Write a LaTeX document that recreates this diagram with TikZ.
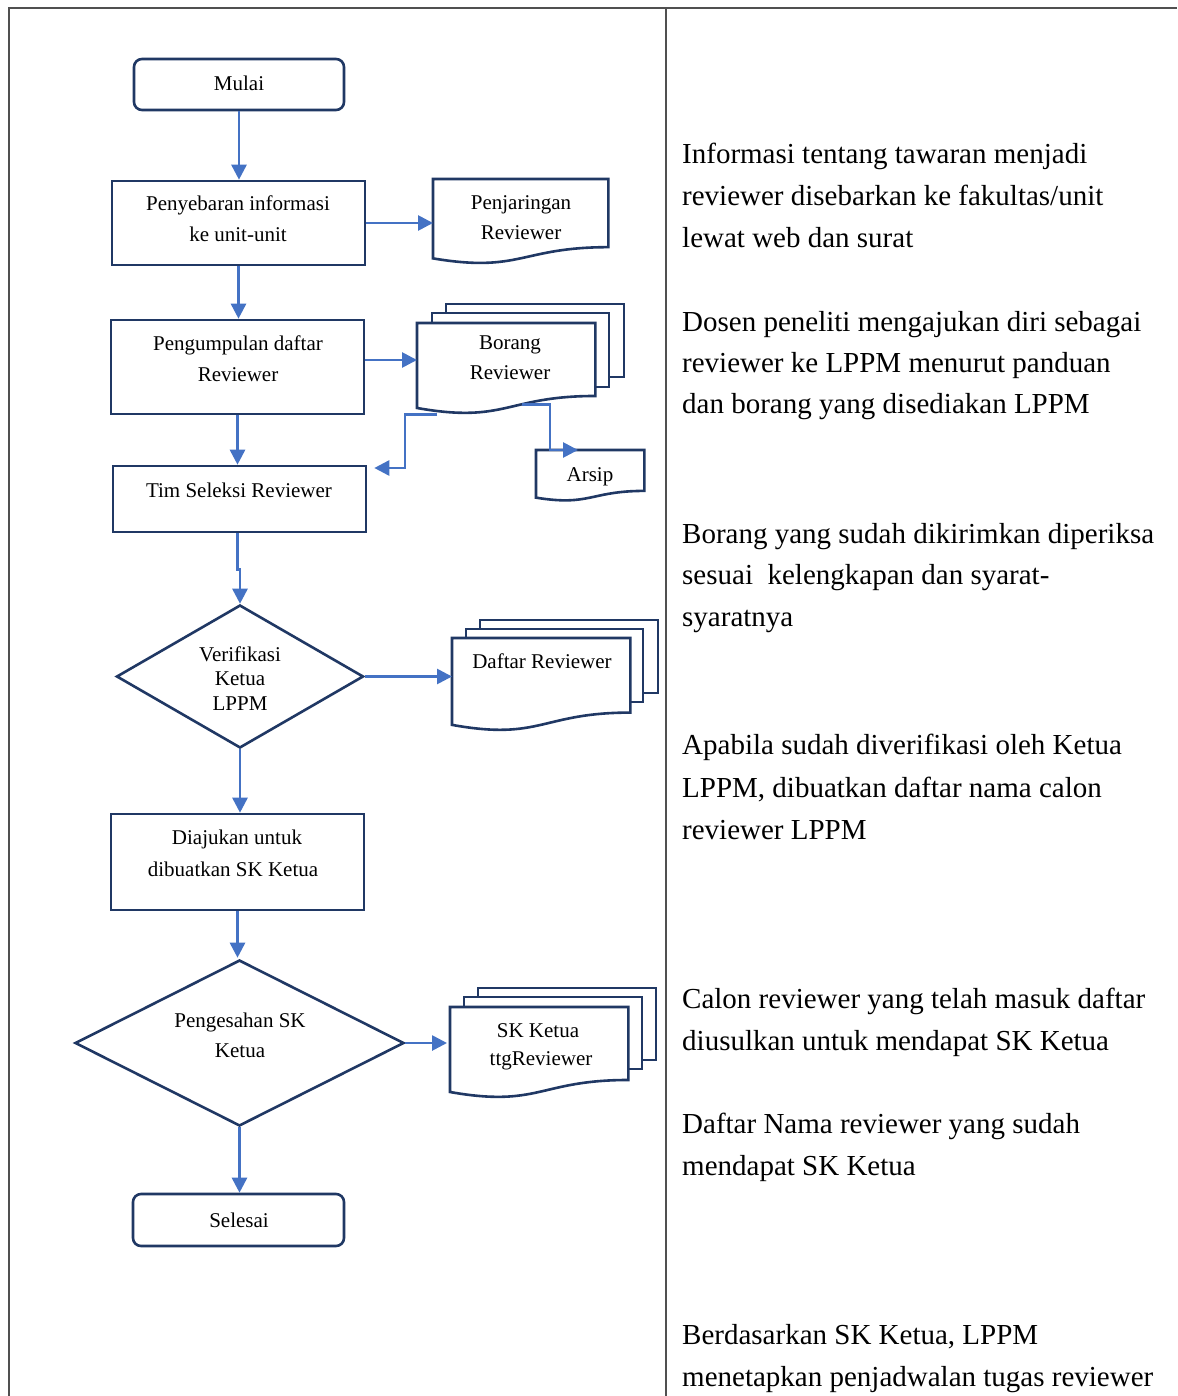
\documentclass[tikz,border=0pt]{standalone}
\usepackage{fontspec}
\setmainfont{Liberation Serif}
\usetikzlibrary{arrows.meta,shapes.geometric,calc}
\definecolor{navy}{HTML}{203864}
\definecolor{conblue}{HTML}{4472C4}
\definecolor{framegray}{HTML}{505050}
\newcommand\docpath[2]{%
  \draw[nodeline,fill=white] (#1.north west) -- (#1.north east)
    -- ([yshift=-0.802*#2]#1.north east)
    .. controls ([yshift=-0.802*#2]#1.north) and ([yshift=-1.1075*#2]#1.north)
    .. ([yshift=-0.934*#2]#1.north west) -- cycle;}
\begin{document}
\begin{tikzpicture}[x=1pt,y=-1pt,
  nodeline/.style={draw=navy,line width=2.6pt,line join=miter},
  procbox/.style={nodeline,rectangle,inner sep=0pt,fill=white},
  termbox/.style={procbox,rounded corners=8pt},
  decbox/.style={nodeline,diamond,inner sep=0pt,fill=white},
  docbox/.style={rectangle,inner sep=0pt,anchor=north west},
  conn/.style={draw=conblue,line width=2.7pt,-{Triangle[length=15pt,width=15pt]}},
  lt/.style={anchor=base,inner sep=0pt,font=\fontsize{21}{25}\selectfont},
  rt/.style={anchor=base west,inner sep=0pt,font=\fontsize{29}{35}\selectfont},
  frame/.style={draw=framegray,line width=1.4pt}]
\useasboundingbox (0,0) rectangle (1177,1396);
\fill[white] (0,0) rectangle (1177,1396);
% table frame
\draw[frame] (9,1396) -- (9,8) -- (1177,8);
\draw[frame] (666,8) -- (666,1396);

% main flow shapes
\node[termbox,minimum width=210pt,minimum height=51pt] (mulai) at (239,84.5) {};
\node[procbox,minimum width=253pt,minimum height=84pt] (peny) at (238.5,223) {};
\node[procbox,minimum width=253pt,minimum height=94pt] (peng) at (237.5,367) {};
\node[procbox,minimum width=253pt,minimum height=66pt] (tim) at (239.5,499) {};
\node[decbox,minimum width=247pt,minimum height=143pt] (verif) at (240,676.5) {};
\node[procbox,minimum width=253pt,minimum height=96pt] (diaj) at (237.5,862) {};
\node[decbox,minimum width=329pt,minimum height=166pt] (sah) at (239.5,1043) {};
\node[termbox,minimum width=211pt,minimum height=52pt] (selesai) at (238.5,1220) {};

% documents
\node[docbox,minimum width=175pt,minimum height=85pt] (penj) at (433,179) {};
\docpath{penj}{85pt}

\draw[nodeline,fill=white] (446,304) rectangle (624,377);
\draw[nodeline,fill=white] (432,313) rectangle (609,387);
\node[docbox,minimum width=178pt,minimum height=91pt] (bord) at (417,323) {};
\docpath{bord}{91pt}

\node[docbox,minimum width=108pt,minimum height=51pt] (arsip) at (536,450) {};
\docpath{arsip}{51pt}

\draw[nodeline,fill=white] (480,620) rectangle (658,693);
\draw[nodeline,fill=white] (466,629) rectangle (643,702);
\node[docbox,minimum width=178pt,minimum height=93pt] (daftar) at (452,638) {};
\docpath{daftar}{93pt}

\draw[nodeline,fill=white] (478,988) rectangle (656,1060);
\draw[nodeline,fill=white] (464,997) rectangle (642,1069);
\node[docbox,minimum width=178pt,minimum height=91pt] (sk) at (450,1007) {};
\docpath{sk}{91pt}

% connectors
\draw[conn] (mulai.south) -- (mulai.south |- peny.north);
\draw[conn] (peny.east) -- (peny.east -| penj.west);
\draw[conn] (peny.south) -- (peny.south |- peng.north);
\draw[conn] ([yshift=7pt]peng.east) -- ([yshift=7pt]peng.east -| bord.west);
\draw[conn] (peng.south) -- (peng.south |- tim.north);
\draw[conn] ([xshift=20pt]bord.south west) -- ++(-32,0) |- ([xshift=7pt,yshift=31pt]tim.east);
\draw[conn] ([xshift=105pt,yshift=10pt]bord.south west) -| ([xshift=14pt]arsip.north west) -- ([xshift=42pt]arsip.north west);
\draw[conn] ([xshift=-2pt]tim.south) -- ++(0,36) -| (verif.north);
\draw[conn] (verif.east) -- (verif.east -| daftar.west);
\draw[conn] (verif.south) -- (verif.south |- diaj.north);
\draw[conn] (diaj.south) -- ($(diaj.south |- sah.north)+(0,-1)$);
\draw[conn] (sah.east) -- ([xshift=-3pt]sah.east -| sk.west);
\draw[conn] (sah.south) -- (sah.south |- selesai.north);

% left labels
\node[lt] (l1) at (239,91) {Mulai};
\node[lt] (l2a) at (238,211) {Penyebaran informasi};
\node[lt] (l2b) at (238,242) {ke unit-unit};
\node[lt] (l3a) at (521,210) {Penjaringan};
\node[lt] (l3b) at (521,240) {Reviewer};
\node[lt] (l4a) at (238,350) {Pengumpulan daftar};
\node[lt] (l4b) at (238,381) {Reviewer};
\node[lt] (l5a) at (510,349) {Borang};
\node[lt] (l5b) at (510,379) {Reviewer};
\node[lt] (l6) at (590,481) {Arsip};
\node[lt] (l7) at (239,497) {Tim Seleksi Reviewer};
\node[lt] (l8a) at (240,661) {Verifikasi};
\node[lt] (l8b) at (240,685) {Ketua};
\node[lt] (l8c) at (240,710) {LPPM};
\node[lt] (l9) at (542,668) {Daftar Reviewer};
\node[lt] (l10a) at (237,844) {Diajukan untuk};
\node[lt] (l10b) at (233,876) {dibuatkan SK Ketua};
\node[lt] (l11a) at (240,1027) {Pengesahan SK};
\node[lt] (l11b) at (240,1057) {Ketua};
\node[lt] (l12a) at (538,1037) {SK Ketua};
\node[lt] (l12b) at (541,1065) {ttgReviewer};
\node[lt] (l13) at (239,1227) {Selesai};

% right descriptions
\node[rt] (r1a) at (682,164) {Informasi tentang tawaran menjadi};
\node[rt] (r1b) at (682,206) {reviewer disebarkan ke fakultas/unit};
\node[rt] (r1c) at (682,248) {lewat web dan surat};
\node[rt] (r2a) at (682,331) {Dosen peneliti mengajukan diri sebagai};
\node[rt] (r2b) at (682,372) {reviewer ke LPPM menurut panduan};
\node[rt] (r2c) at (682,413) {dan borang yang disediakan LPPM};
\node[rt] (r3a) at (682,543) {Borang yang sudah dikirimkan diperiksa};
\node[rt] (r3b) at (682,584) {sesuai~ kelengkapan dan syarat-};
\node[rt] (r3c) at (682,626) {syaratnya};
\node[rt] (r4a) at (682,754) {Apabila sudah diverifikasi oleh Ketua};
\node[rt] (r4b) at (682,797) {LPPM, dibuatkan daftar nama calon};
\node[rt] (r4c) at (682,839) {reviewer LPPM};
\node[rt] (r5a) at (682,1008) {Calon reviewer yang telah masuk daftar};
\node[rt] (r5b) at (682,1050) {diusulkan untuk mendapat SK Ketua};
\node[rt] (r6a) at (682,1133) {Daftar Nama reviewer yang sudah};
\node[rt] (r6b) at (682,1175) {mendapat SK Ketua};
\node[rt] (r7a) at (682,1344) {Berdasarkan SK Ketua, LPPM};
\node[rt] (r7b) at (682,1386) {menetapkan penjadwalan tugas reviewer};
\end{tikzpicture}
\end{document}
